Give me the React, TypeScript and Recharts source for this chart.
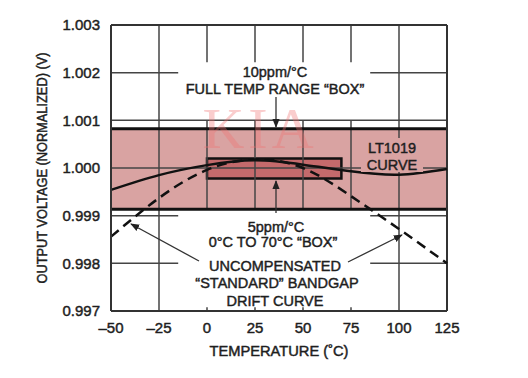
import React from "react";
import {
  LineChart,
  Line,
  XAxis,
  YAxis,
  ReferenceArea,
  ReferenceLine,
} from "recharts";

// temperature (°C) and normalized output voltage (V)
const temps = [-50, -25, 0, 25, 50, 75, 100, 125];
const lt1019 = [0.99954, 0.99985, 1.00006, 1.00016, 1.00007, 0.99993, 0.99986, 0.99998];
const bandgap = [0.99856, 0.99937, 0.99996, 1.00018, 1.0, 0.99941, 0.99872, 0.998];

const xTicks = [-50, -25, 0, 25, 50, 75, 100, 125];
const yTicks = [0.997, 0.998, 0.999, 1.0, 1.001, 1.002, 1.003];

// 10ppm/°C full range box and 5ppm/°C 0°C to 70°C box
const fullBox = [0.999135, 1.000825];
const innerBoxT = [0, 70];
const innerBoxV = [0.99978, 1.0002];

// grid pieces (the original grid is broken around the notes)
const hGrid: Array<[number, number, number]> = [
  [1.002, -50, -15],
  [1.002, 85, 125],
  [1.001, -50, 125],
  [1.0, -50, 125],
  [0.999, -50, -15],
  [0.999, 85, 125],
  [0.998, -50, -15],
  [0.998, 85, 125],
];
const vGrid: Array<[number, number, number]> = [
  [-25, 0.997, 1.003],
  [100, 0.997, 1.003],
  [0, 1.00222, 1.003],
  [25, 1.00222, 1.003],
  [50, 1.00222, 1.003],
  [75, 1.00222, 1.003],
  [0, 0.99914, 1.001],
  [25, 0.99914, 1.001],
  [50, 0.99914, 1.001],
  [75, 0.99914, 1.001],
  [0, 0.997, 0.99708],
  [25, 0.997, 0.99708],
  [50, 0.997, 0.99708],
  [75, 0.997, 0.99708],
];

const rows = temps.map((t, i) => ({ t, lt: lt1019[i], bg: bandgap[i] }));

const font = "'Liberation Sans', Arial, sans-serif";
const ink = "#1e1e1e";
const gridColor = "#444";
const heavy = { stroke: ink, strokeWidth: 0.45 };

const fmtX = (v: number) => (v < 0 ? `\u2013${Math.abs(v)}` : `${v}`);

function Notes() {
  const t = { fontFamily: font, fontSize: 14.5, fill: ink, textAnchor: "middle" as const, ...heavy };
  return (
    <svg
      width={528}
      height={378}
      style={{ position: "absolute", left: 0, top: 0, pointerEvents: "none" }}
    >
      <defs>
        <marker id="ah" viewBox="0 0 10 10" refX="9" refY="5" markerWidth="7" markerHeight="7" orient="auto">
          <path d="M0,1 L10,5 L0,9 z" fill="#222" />
        </marker>
      </defs>
      <text x={260} y={148} fontFamily="'Liberation Serif', serif" fontSize={58} fill="#f07070" fillOpacity={0.35} textAnchor="middle" letterSpacing={4}>
        KIA
      </text>
      <text {...t} x={275} y={77}>10ppm/°C</text>
      <text {...t} x={275} y={94}>FULL TEMP RANGE “BOX”</text>
      <line x1={276} y1={97} x2={276} y2={127} stroke="#333" strokeWidth={1.3} markerEnd="url(#ah)" />

      <rect x={361} y={138} width={62} height={34} fill="#d9a3a2" />
      <text {...t} x={392} y={153}>LT1019</text>
      <text {...t} x={392} y={170}>CURVE</text>

      <line x1={276} y1={213} x2={276} y2={181} stroke="#333" strokeWidth={1.3} markerEnd="url(#ah)" />
      <text {...t} x={276} y={232}>5ppm/°C</text>
      <text {...t} x={273} y={247}>0°C TO 70°C “BOX”</text>
      <text {...t} x={275} y={271}>UNCOMPENSATED</text>
      <text {...t} x={277} y={288}>“STANDARD” BANDGAP</text>
      <text {...t} x={275} y={306}>DRIFT CURVE</text>
      <line x1={199} y1={261} x2={131} y2={224} stroke="#333" strokeWidth={1.3} markerEnd="url(#ah)" />
      <line x1={348} y1={262} x2={402} y2={235} stroke="#333" strokeWidth={1.3} markerEnd="url(#ah)" />

      <text
        x={0}
        y={0}
        transform="translate(47,168) rotate(-90)"
        fontFamily={font}
        fontSize={14}
        fill={ink}
        {...heavy}
        textAnchor="middle"
        textLength={231}
        lengthAdjust="spacingAndGlyphs"
      >
        OUTPUT VOLTAGE (NORMALIZED) (V)
      </text>
      <text
        x={279}
        y={356}
        fontFamily={font}
        fontSize={14}
        fill={ink}
        {...heavy}
        textAnchor="middle"
        textLength={139}
        lengthAdjust="spacingAndGlyphs"
      >
        TEMPERATURE (˚C)
      </text>
    </svg>
  );
}

export default function App() {
  return (
    <div style={{ position: "absolute", left: 0, top: 0, width: 528, height: 378, background: "#fff" }}>
      <LineChart
        width={528}
        height={378}
        data={rows}
        margin={{ top: 25, right: 81, bottom: 37, left: 51 }}
      >
        <XAxis
          dataKey="t"
          type="number"
          domain={[-50, 125]}
          ticks={xTicks}
          tickFormatter={fmtX}
          tickLine={false}
          tickSize={0}
          tickMargin={11}
          axisLine={{ stroke: "#333", strokeWidth: 2 }}
          tick={{ fontFamily: font, fontSize: 15, fill: ink, ...heavy }}
          height={30}
        />
        <YAxis
          type="number"
          domain={[0.997, 1.003]}
          ticks={yTicks}
          tickFormatter={(v: number) => v.toFixed(3)}
          tickLine={false}
          tickSize={0}
          tickMargin={11}
          width={60}
          axisLine={{ stroke: "#333", strokeWidth: 2 }}
          tick={{ fontFamily: font, fontSize: 15, fill: ink, ...heavy }}
        />
        <ReferenceArea
          x1={-50}
          x2={125}
          y1={fullBox[0]}
          y2={fullBox[1]}
          fill="#d9a3a2"
          fillOpacity={1}
          stroke="none"
          ifOverflow="visible"
        />
        {hGrid.map(([y, a, b], i) => (
          <ReferenceLine
            key={`h${i}`}
            segment={[{ x: a, y }, { x: b, y }]}
            stroke={gridColor}
            strokeWidth={1.5}
          />
        ))}
        {vGrid.map(([x, a, b], i) => (
          <ReferenceLine
            key={`v${i}`}
            segment={[{ x, y: a }, { x, y: b }]}
            stroke={gridColor}
            strokeWidth={1.5}
          />
        ))}
        <ReferenceLine y={fullBox[0]} stroke="#111" strokeWidth={3} />
        <ReferenceLine y={fullBox[1]} stroke="#111" strokeWidth={3} />
        <ReferenceArea
          x1={innerBoxT[0]}
          x2={innerBoxT[1]}
          y1={innerBoxV[0]}
          y2={innerBoxV[1]}
          fill="#c46a6c"
          fillOpacity={1}
          stroke="#111"
          strokeWidth={2.5}
        />
        <ReferenceLine y={1.003} stroke="#333" strokeWidth={2} />
        <ReferenceLine x={125} stroke="#333" strokeWidth={2} />
        <Line
          dataKey="bg"
          type="natural"
          stroke="#111"
          strokeWidth={2.5}
          strokeDasharray="10 6"
          dot={false}
          isAnimationActive={false}
        />
        <Line
          dataKey="lt"
          type="natural"
          stroke="#111"
          strokeWidth={2.5}
          dot={false}
          isAnimationActive={false}
        />
      </LineChart>
      <Notes />
    </div>
  );
}
